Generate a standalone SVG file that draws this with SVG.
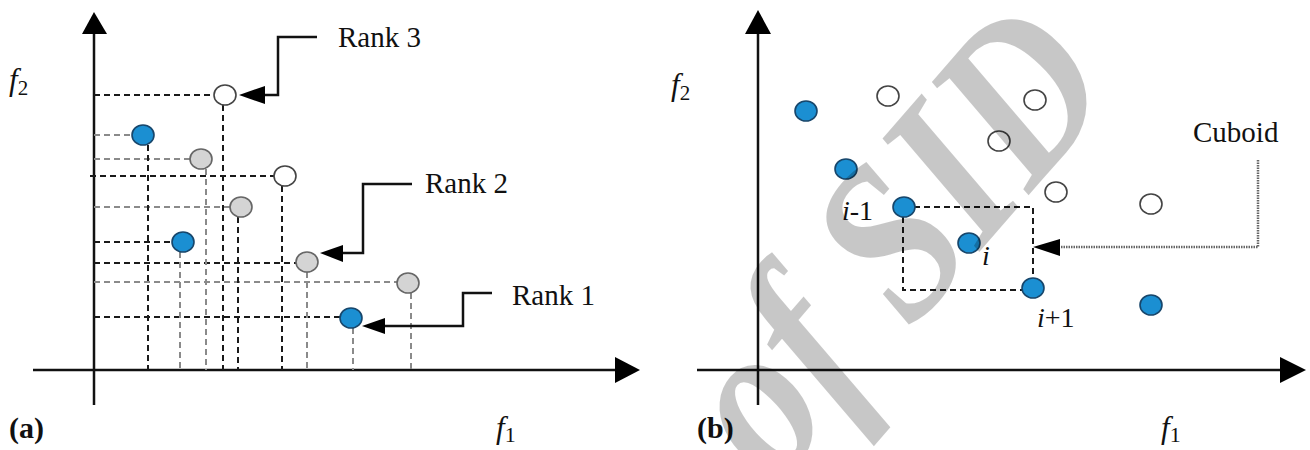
<svg xmlns="http://www.w3.org/2000/svg" width="1310" height="450" viewBox="0 0 1310 450">
<defs>
<style>
.ax{stroke:#111;stroke-width:2.5;fill:none}
.ah{fill:#000}
.dk{stroke:#1a1a1a;stroke-width:2;stroke-dasharray:6 4;fill:none}
.dg{stroke:#8a8a8a;stroke-width:2;stroke-dasharray:6 4;fill:none}
.call{stroke:#111;stroke-width:2.5;fill:none}
.dot{stroke:#666;stroke-width:2.5;stroke-dasharray:1.5 1;fill:none}
.blue{fill:#1b8fd2;stroke:#17466b;stroke-width:1.6}
.gray{fill:#d4d4d4;stroke:#666;stroke-width:1.6}
.open{fill:#fff;stroke:#444;stroke-width:1.6}
.t{font-family:"Liberation Serif","Times New Roman",serif;fill:#111}
.it{font-style:italic}
.b{font-weight:bold}
.wm{font-family:"Liberation Serif","Times New Roman",serif;font-style:italic;font-weight:bold;fill:#000;fill-opacity:0.22}
</style>
</defs>
<rect width="1310" height="450" fill="#fff"/>

<g id="axes">
<line class="ax" x1="94" y1="30" x2="94" y2="405"/>
<polygon class="ah" points="94,12 82,34 107,34"/>
<line class="ax" x1="33" y1="370" x2="617" y2="370"/>
<polygon class="ah" points="640,370 615,357 615,383"/>
<line class="ax" x1="758" y1="30" x2="758" y2="405"/>
<polygon class="ah" points="758,10 745,34 771,34"/>
<line class="ax" x1="697" y1="370" x2="1282" y2="370"/>
<polygon class="ah" points="1306,370 1280,357 1280,383"/>
</g>

<g id="connectors">
<path class="dk" d="M94,95H214M90,176H274M94,242H172M94,263H296M94,317H340"/>
<path class="dg" d="M94,135H132M94,159H190M94,207H230M94,282H397"/>
<path class="dk" d="M148,145V370M223,105V370M238,217V370M282,186V370"/>
<path class="dg" d="M180,252V370M206,169V370M307,272V370M353,328V370M411,293V370"/>
<path class="call" d="M265,95H278V37H317"/>
<polygon class="ah" points="239,95 265,86 265,104"/>
<path class="call" d="M412,184H363V253H343"/>
<polygon class="ah" points="320,253 343,245 343,262"/>
<path class="call" d="M492,293H463V326H385"/>
<polygon class="ah" points="362,326 385,318 385,334"/>
<path class="dk" d="M904,207H1033V288M903,207V290H1033"/>
<path class="dot" d="M1258,160V247H1060"/>
<polygon class="ah" points="1033,247 1060,239 1060,256"/>
</g>

<g id="panel-a-points">
<ellipse id="a-open1" class="open" cx="225" cy="95" rx="11" ry="10"/>
<ellipse id="a-open2" class="open" cx="285" cy="176" rx="11" ry="10"/>
<ellipse id="a-blue1" class="blue" cx="143" cy="135" rx="11" ry="10"/>
<ellipse id="a-blue2" class="blue" cx="183" cy="242" rx="11" ry="10"/>
<ellipse id="a-blue3" class="blue" cx="351" cy="318" rx="11" ry="10"/>
<ellipse id="a-gray1" class="gray" cx="201" cy="159" rx="11" ry="10"/>
<ellipse id="a-gray2" class="gray" cx="241" cy="207" rx="11" ry="10"/>
<ellipse id="a-gray3" class="gray" cx="307" cy="262" rx="11" ry="10"/>
<ellipse id="a-gray4" class="gray" cx="408" cy="283" rx="11" ry="10"/>
</g>

<g id="panel-b-points">
<ellipse id="b-blue1" class="blue" cx="806" cy="111" rx="11" ry="10"/>
<ellipse id="b-blue2" class="blue" cx="846" cy="169" rx="11" ry="10"/>
<ellipse id="b-blue-im1" class="blue" cx="904" cy="207" rx="11" ry="10"/>
<ellipse id="b-blue-i" class="blue" cx="969" cy="243" rx="11" ry="10"/>
<ellipse id="b-blue-ip1" class="blue" cx="1033" cy="288" rx="11" ry="10"/>
<ellipse id="b-blue6" class="blue" cx="1151" cy="305" rx="11" ry="10"/>
<ellipse id="b-open1" class="open" cx="888" cy="96" rx="11" ry="10"/>
<ellipse id="b-open2" class="open" cx="1035" cy="100" rx="11" ry="10"/>
<ellipse id="b-open3" class="open" cx="999" cy="141" rx="11" ry="10"/>
<ellipse id="b-open4" class="open" cx="1056" cy="192" rx="11" ry="10"/>
<ellipse id="b-open5" class="open" cx="1151" cy="204" rx="11" ry="10"/>
</g>

<g id="labels">
<text id="a-f2" class="t it" x="9" y="90" font-size="31">f<tspan font-style="normal" font-size="21" dy="5">2</tspan></text>
<text id="a-f1" class="t it" x="496" y="438" font-size="31">f<tspan font-style="normal" font-size="22" dy="4">1</tspan></text>
<text id="a-label" class="t b" x="9" y="438" font-size="30">(a)</text>
<text id="rank3" class="t" x="338" y="47" font-size="29">Rank 3</text>
<text id="rank2" class="t" x="425" y="193" font-size="29">Rank 2</text>
<text id="rank1" class="t" x="512" y="305" font-size="29">Rank 1</text>
<text id="b-f2" class="t it" x="671" y="95" font-size="31">f<tspan font-style="normal" font-size="21" dy="5">2</tspan></text>
<text id="b-f1" class="t it" x="1161" y="438" font-size="31">f<tspan font-style="normal" font-size="22" dy="4">1</tspan></text>
<text id="b-label" class="t b" x="697" y="438" font-size="30">(b)</text>
<text id="cuboid" class="t" x="1193" y="142" font-size="29">Cuboid</text>
<text id="lbl-im1" class="t" x="842" y="220" font-size="28"><tspan font-style="italic">i</tspan>-1</text>
<text id="lbl-i" class="t it" x="982" y="265" font-size="28">i</text>
<text id="lbl-ip1" class="t" x="1037" y="327" font-size="28"><tspan font-style="italic">i</tspan>+1</text>
</g>

<text id="watermark" class="wm" font-size="225" text-anchor="end" transform="translate(1120,90) rotate(-49) scale(0.85,1)">Archive of SID</text>
</svg>
